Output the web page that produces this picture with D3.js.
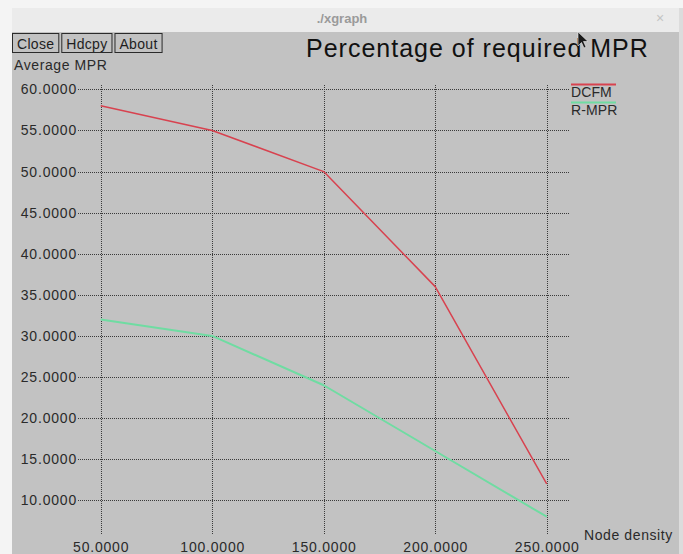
<!DOCTYPE html>
<html>
<head>
<meta charset="utf-8">
<script src="https://cdn.jsdelivr.net/npm/d3@7"></script>
<style>
  html, body { margin: 0; padding: 0; background: #f4f4f4; }
  svg { display: block; }
  text { font-family: "Liberation Sans", Arial, sans-serif; }
</style>
</head>
<body>
<svg id="chart" width="683" height="554"></svg>
<script>
// Data
const nodeDensity = [50, 100, 150, 200, 250];
const dcfm = [58, 55, 50, 36, 12];
const rmpr = [32, 30, 24, 16, 8];
const seriesNames = ["DCFM", "R-MPR"];
const seriesColors = ["#d8424f", "#6fdca2"];
const xTicks = [50, 100, 150, 200, 250];
const yTicks = [10, 15, 20, 25, 30, 35, 40, 45, 50, 55, 60];
const buttons = ["Close", "Hdcpy", "About"];

const svg = d3.select("#chart");
const fmt = d3.format(".4f");

// Window frame
svg.append("rect").attr("x", 12).attr("y", 8).attr("width", 667).attr("height", 546).attr("fill", "#c2c2c2");
svg.append("rect").attr("x", 12).attr("y", 8).attr("width", 667).attr("height", 24).attr("fill", "#ebebeb");
svg.append("rect").attr("x", 679).attr("y", 8).attr("width", 4).attr("height", 546).attr("fill", "#dcdcdc");
svg.append("text").attr("x", 342).attr("y", 23).attr("text-anchor", "middle")
  .attr("font-size", 13).attr("font-weight", "bold").attr("fill", "#9a9a9a").text("./xgraph");
svg.append("text").attr("x", 660).attr("y", 23).attr("text-anchor", "middle")
  .attr("font-size", 14).attr("fill", "#c4c4c4").text("×");

// Buttons
let bx = 12;
buttons.forEach(b => {
  const t = svg.append("text").attr("x", bx + 5).attr("y", 48.5)
    .attr("font-size", 14).attr("letter-spacing", "0.3px").attr("fill", "#1e1e1e").text(b);
  const w = t.node().getComputedTextLength() + 9;
  svg.insert("rect", "text").attr("x", bx + 0.5).attr("y", 33.5).attr("width", w).attr("height", 19)
    .attr("fill", "none").attr("stroke", "#2a2a2a");
  bx += w + 3;
});

// Title
svg.append("text").attr("x", 306).attr("y", 57).attr("font-size", 25)
  .attr("letter-spacing", "1px").attr("fill", "#111").text("Percentage of required MPR");

// Scales
const x = d3.scaleLinear().domain([50, 250]).range([100.7, 546.7]);
const y = d3.scaleLinear().domain([10, 60]).range([500.3, 89.4]);

const gridLeft = 78, gridRight = 570, gridTop = 85, gridBottom = 535;

// Y axis with horizontal grid lines
const yAxis = svg.append("g").attr("transform", `translate(${gridLeft},0)`)
  .call(d3.axisLeft(y).tickValues(yTicks).tickFormat(fmt)
    .tickSize(-(gridRight - gridLeft)).tickPadding(1));
yAxis.select(".domain").remove();
yAxis.selectAll("line").attr("stroke", "#3a3a3a").attr("stroke-dasharray", "1,1").attr("shape-rendering", "crispEdges");
yAxis.selectAll("text").attr("font-size", 14).attr("letter-spacing", "0.8px")
  .attr("fill", "#2a2a2a").attr("font-family", "Liberation Sans, Arial, sans-serif");

// X axis with vertical grid lines
const xAxis = svg.append("g").attr("transform", `translate(0,${gridTop})`)
  .call(d3.axisBottom(x).tickValues(xTicks).tickFormat(fmt)
    .tickSize(gridBottom - gridTop).tickPadding(7));
xAxis.select(".domain").remove();
xAxis.selectAll("line").attr("stroke", "#3a3a3a").attr("stroke-dasharray", "1,1").attr("shape-rendering", "crispEdges");
xAxis.selectAll("text").attr("font-size", 14).attr("letter-spacing", "0.8px")
  .attr("fill", "#2a2a2a").attr("font-family", "Liberation Sans, Arial, sans-serif");

// Axis titles
svg.append("text").attr("x", 14).attr("y", 70).attr("font-size", 14).attr("letter-spacing", "0.6px")
  .attr("fill", "#2a2a2a").text("Average MPR");
svg.append("text").attr("x", 584).attr("y", 540).attr("font-size", 14).attr("letter-spacing", "0.6px")
  .attr("fill", "#2a2a2a").text("Node density");

// Series lines
const line = d3.line().x((d, i) => x(nodeDensity[i])).y(d => y(d));
[dcfm, rmpr].forEach((vals, k) => {
  svg.append("path").datum(vals).attr("d", line)
    .attr("fill", "none").attr("stroke", seriesColors[k])
    .attr("stroke-width", k === 0 ? 1.5 : 2).attr("stroke-linejoin", "round");
});

// Legend
seriesNames.forEach((name, k) => {
  const ly = 84.5 + k * 18;
  svg.append("line").attr("x1", 571).attr("x2", 616).attr("y1", ly).attr("y2", ly)
    .attr("stroke", seriesColors[k]).attr("stroke-width", 2);
  svg.append("text").attr("x", 571).attr("y", ly + 12.5).attr("font-size", 14)
    .attr("letter-spacing", "0.1px").attr("fill", "#2a2a2a").text(name);
});

// Mouse pointer
svg.append("path")
  .attr("d", "M578,32 L578,46 L581.5,42.5 L584,48 L586,47 L583.5,41.5 L588,41.5 Z")
  .attr("fill", "#1a1a1a").attr("stroke", "#eee").attr("stroke-width", 0.6);
</script>
</body>
</html>
